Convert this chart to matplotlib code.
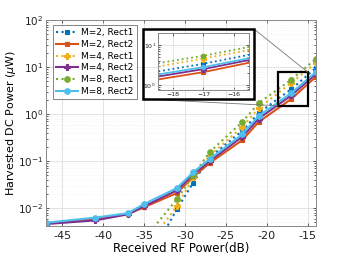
import numpy as np
import matplotlib
matplotlib.use("Agg")
import matplotlib.pyplot as plt
from matplotlib.patches import Rectangle

x_db = [-47, -41, -37, -35, -31, -29, -27, -23, -21, -17, -14]
m2_rect1 = [1e-5, 5e-5, 2e-4, 5.5e-4, 0.0095, 0.035, 0.12, 0.44, 1.05, 3.4, 9.5]
m2_rect2 = [0.0048, 0.0060, 0.0075, 0.0105, 0.021, 0.046, 0.091, 0.28, 0.68, 2.1, 6.2]
m4_rect1 = [1e-5, 8e-5, 4e-4, 0.0013, 0.011, 0.045, 0.13, 0.53, 1.34, 4.6, 12.2]
m4_rect2 = [0.0046, 0.0055, 0.0074, 0.011, 0.024, 0.052, 0.10, 0.33, 0.80, 2.5, 7.1]
m8_rect1 = [1e-5, 1e-4, 6e-4, 0.0022, 0.0155, 0.05, 0.155, 0.68, 1.71, 5.4, 14.8]
m8_rect2 = [0.0049, 0.0063, 0.0078, 0.0123, 0.0267, 0.058, 0.11, 0.37, 0.91, 2.8, 7.8]
labels = ["M=2, Rect1", "M=2, Rect2", "M=4, Rect1", "M=4, Rect2", "M=8, Rect1", "M=8, Rect2"]
xticks = [-45, -40, -35, -30, -25, -20, -15]

series = [m2_rect1, m2_rect2, m4_rect1, m4_rect2, m8_rect1, m8_rect2]
colors = ["#0072BD", "#D95319", "#EDB120", "#7E2F8E", "#77AC30", "#4DBEEE"]
styles = [":", "-", ":", "-", ":", "-"]
markers = ["s", "s", "P", "P", "o", "o"]
mks = [3.5, 3.5, 4.5, 4.5, 4, 4]

fig = plt.figure(figsize=(3.49, 2.63), dpi=100)
ax = fig.add_axes([0.132, 0.141, 0.773, 0.783])

def draw(a, lw=1.5, ms_scale=1.0):
    hs = []
    for ys, c, ls, mk, ms, lb in zip(series, colors, styles, markers, mks, labels):
        h, = a.plot(x_db, ys, linestyle=ls, color=c, marker=mk, markersize=ms * ms_scale,
                    linewidth=lw, label=lb, markeredgewidth=0.8)
        hs.append(h)
    return hs

def style(a, fs):
    a.set_yscale("log")
    a.grid(True, which="major", color="#dddddd", linewidth=0.6)
    a.grid(True, which="minor", color="#eeeeee", linewidth=0.5, linestyle=":")
    for s in a.spines.values():
        s.set_color("#888888")
        s.set_linewidth(0.7)
    a.tick_params(direction="in", which="both", labelsize=fs, colors="#222222",
                  top=True, right=True, length=2.5, width=0.5)
    a.tick_params(which="minor", length=1.5)

draw(ax)
style(ax, 8)
ax.tick_params(axis="y", labelsize=7.5, pad=2)
ax.set_xlim(-47, -14)
ax.set_ylim(0.0042, 100)
ax.set_xticks(xticks)
ax.set_xticklabels([str(t) for t in xticks])
ax.set_yticks([1e-2, 1e-1, 1e0, 1e1, 1e2])
ax.set_xlabel("Received RF Power(dB)", fontsize=8.5, labelpad=1)
ax.set_ylabel(r"Harvested DC Power ($\mu$W)", fontsize=8, labelpad=0)
leg = ax.legend(loc="upper left", fontsize=6.5, handlelength=2.4, borderpad=0.35,
                labelspacing=0.3, handletextpad=0.4, fancybox=False,
                bbox_to_anchor=(0.025, 0.975), borderaxespad=0.0)
leg.get_frame().set_edgecolor("#666666")
leg.get_frame().set_linewidth(0.7)

# zoom rectangle on main axes
rx0, rx1, ry0, ry1 = -18.6, -15.0, 1.5, 7.8
ax.add_patch(Rectangle((rx0, ry0), rx1 - rx0, ry1 - ry0, fill=False,
                       edgecolor="black", linewidth=1.6, zorder=5))

# inset
W, H = 349.0, 263.0
iax = fig.add_axes([158 / W, 1 - 90 / H, (249 - 158) / W, (90 - 33) / H])
draw(iax, lw=1.3, ms_scale=0.8)
style(iax, 4.5)
iax.set_xlim(-18.5, -15.5)
iax.set_ylim(0.75, 20)
iax.set_xticks([-18, -17, -16])
iax.set_yticks([1, 10])
iax.tick_params(pad=1.5)

# outer black frame of inset
fig.patches.append(Rectangle((143 / W, 1 - 99 / H), (254 - 143) / W, (99 - 29) / H,
                             transform=fig.transFigure, fill=False,
                             edgecolor="black", linewidth=1.8, zorder=10))
# connector lines
tr = ax.transData + fig.transFigure.inverted()
p_tr = tr.transform((rx1, ry1))
p_bl = tr.transform((rx0, ry0))
fig.lines.append(plt.Line2D([254 / W, p_tr[0]], [1 - 29 / H, p_tr[1]],
                            transform=fig.transFigure, color="#777777", linewidth=0.6))
fig.lines.append(plt.Line2D([143 / W, p_bl[0]], [1 - 99 / H, p_bl[1]],
                            transform=fig.transFigure, color="#777777", linewidth=0.6))

fig.savefig("out.png", dpi=100)
